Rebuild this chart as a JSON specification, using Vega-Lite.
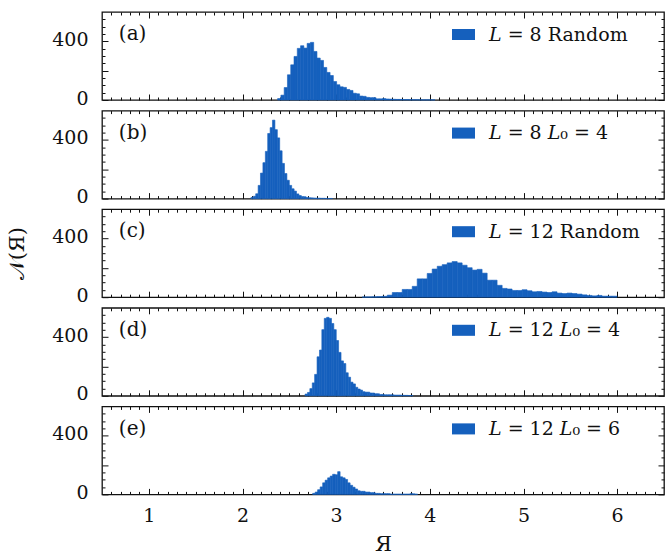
{
  "$schema": "https://vega.github.io/schema/vega-lite/v6.json",
  "padding": {"left": 6, "top": 10, "right": 5, "bottom": 2},
  "spacing": 10.6,
  "bounds": "flush",
  "resolve": {"scale": {"color": "independent"}, "legend": {"color": "independent"}},
  "datasets": {
    "a": [
      {"lo":2.375,"hi":2.41,"n":10},{"lo":2.41,"hi":2.445,"n":33},{"lo":2.445,"hi":2.48,"n":85},{"lo":2.48,"hi":2.515,"n":172},
      {"lo":2.515,"hi":2.55,"n":240},{"lo":2.55,"hi":2.585,"n":297},{"lo":2.585,"hi":2.62,"n":352},{"lo":2.62,"hi":2.655,"n":370},
      {"lo":2.655,"hi":2.69,"n":354},{"lo":2.69,"hi":2.725,"n":386},{"lo":2.725,"hi":2.76,"n":393},{"lo":2.76,"hi":2.795,"n":331},
      {"lo":2.795,"hi":2.83,"n":286},{"lo":2.83,"hi":2.865,"n":270},{"lo":2.865,"hi":2.9,"n":222},{"lo":2.9,"hi":2.935,"n":188},
      {"lo":2.935,"hi":2.97,"n":167},{"lo":2.97,"hi":3.005,"n":126},{"lo":3.005,"hi":3.04,"n":104},{"lo":3.04,"hi":3.075,"n":90},
      {"lo":3.075,"hi":3.11,"n":86},{"lo":3.11,"hi":3.145,"n":72},{"lo":3.145,"hi":3.18,"n":65},{"lo":3.18,"hi":3.215,"n":46},
      {"lo":3.215,"hi":3.25,"n":42},{"lo":3.25,"hi":3.285,"n":27},{"lo":3.285,"hi":3.32,"n":25},{"lo":3.32,"hi":3.355,"n":18},
      {"lo":3.355,"hi":3.39,"n":16},{"lo":3.39,"hi":3.425,"n":16},{"lo":3.425,"hi":3.46,"n":8},{"lo":3.46,"hi":3.495,"n":8},
      {"lo":3.495,"hi":3.53,"n":10},{"lo":3.53,"hi":3.565,"n":7},{"lo":3.565,"hi":3.6,"n":6},{"lo":3.6,"hi":3.635,"n":5},
      {"lo":3.635,"hi":3.67,"n":4},{"lo":3.67,"hi":3.705,"n":4},{"lo":3.705,"hi":3.74,"n":3},{"lo":3.74,"hi":3.775,"n":3},
      {"lo":3.775,"hi":3.81,"n":2},{"lo":3.81,"hi":3.845,"n":2},{"lo":3.845,"hi":3.88,"n":2},{"lo":3.88,"hi":3.915,"n":1},
      {"lo":3.915,"hi":3.95,"n":1},{"lo":3.95,"hi":3.985,"n":1},{"lo":3.985,"hi":4.02,"n":1},{"lo":4.02,"hi":4.055,"n":1}
    ],
    "b": [
      {"lo":2.090,"hi":2.116,"n":8},{"lo":2.116,"hi":2.141,"n":16},{"lo":2.141,"hi":2.167,"n":33},{"lo":2.167,"hi":2.192,"n":90},
      {"lo":2.192,"hi":2.218,"n":174},{"lo":2.218,"hi":2.244,"n":245},{"lo":2.244,"hi":2.269,"n":322},{"lo":2.269,"hi":2.295,"n":444},
      {"lo":2.295,"hi":2.320,"n":484},{"lo":2.320,"hi":2.346,"n":535},{"lo":2.346,"hi":2.372,"n":470},{"lo":2.372,"hi":2.397,"n":414},
      {"lo":2.397,"hi":2.423,"n":326},{"lo":2.423,"hi":2.448,"n":240},{"lo":2.448,"hi":2.474,"n":171},{"lo":2.474,"hi":2.500,"n":125},
      {"lo":2.500,"hi":2.525,"n":90},{"lo":2.525,"hi":2.551,"n":67},{"lo":2.551,"hi":2.576,"n":51},{"lo":2.576,"hi":2.602,"n":32},
      {"lo":2.602,"hi":2.628,"n":21},{"lo":2.628,"hi":2.653,"n":14},{"lo":2.653,"hi":2.679,"n":13},{"lo":2.679,"hi":2.704,"n":8},
      {"lo":2.704,"hi":2.730,"n":6},{"lo":2.730,"hi":2.756,"n":5},{"lo":2.756,"hi":2.781,"n":4},{"lo":2.781,"hi":2.807,"n":3},
      {"lo":2.807,"hi":2.832,"n":3},{"lo":2.832,"hi":2.858,"n":2},{"lo":2.858,"hi":2.884,"n":2},{"lo":2.884,"hi":2.909,"n":1},
      {"lo":2.909,"hi":2.935,"n":1},{"lo":2.935,"hi":2.960,"n":1}
    ],
    "c": [
      {"lo":3.279,"hi":3.332,"n":2},{"lo":3.332,"hi":3.386,"n":2},{"lo":3.386,"hi":3.439,"n":3},{"lo":3.439,"hi":3.492,"n":4},
      {"lo":3.492,"hi":3.546,"n":6},{"lo":3.546,"hi":3.599,"n":14},{"lo":3.599,"hi":3.652,"n":32},{"lo":3.652,"hi":3.705,"n":32},
      {"lo":3.705,"hi":3.759,"n":53},{"lo":3.759,"hi":3.812,"n":53},{"lo":3.812,"hi":3.865,"n":74},{"lo":3.865,"hi":3.919,"n":125},
      {"lo":3.919,"hi":3.972,"n":125},{"lo":3.972,"hi":4.025,"n":162},{"lo":4.025,"hi":4.079,"n":192},{"lo":4.079,"hi":4.132,"n":211},
      {"lo":4.132,"hi":4.185,"n":222},{"lo":4.185,"hi":4.238,"n":234},{"lo":4.238,"hi":4.292,"n":243},{"lo":4.292,"hi":4.345,"n":234},
      {"lo":4.345,"hi":4.398,"n":218},{"lo":4.398,"hi":4.452,"n":201},{"lo":4.452,"hi":4.505,"n":185},{"lo":4.505,"hi":4.558,"n":190},
      {"lo":4.558,"hi":4.612,"n":164},{"lo":4.612,"hi":4.665,"n":116},{"lo":4.665,"hi":4.718,"n":116},{"lo":4.718,"hi":4.772,"n":81},
      {"lo":4.772,"hi":4.825,"n":60},{"lo":4.825,"hi":4.878,"n":56},{"lo":4.878,"hi":4.932,"n":46},{"lo":4.932,"hi":4.985,"n":46},
      {"lo":4.985,"hi":5.038,"n":51},{"lo":5.038,"hi":5.091,"n":44},{"lo":5.091,"hi":5.145,"n":37},{"lo":5.145,"hi":5.198,"n":39},
      {"lo":5.198,"hi":5.251,"n":35},{"lo":5.251,"hi":5.305,"n":32},{"lo":5.305,"hi":5.358,"n":37},{"lo":5.358,"hi":5.411,"n":28},
      {"lo":5.411,"hi":5.465,"n":25},{"lo":5.465,"hi":5.518,"n":28},{"lo":5.518,"hi":5.571,"n":25},{"lo":5.571,"hi":5.625,"n":21},
      {"lo":5.625,"hi":5.678,"n":16},{"lo":5.678,"hi":5.731,"n":12},{"lo":5.731,"hi":5.785,"n":9},{"lo":5.785,"hi":5.838,"n":12},
      {"lo":5.838,"hi":5.891,"n":7},{"lo":5.891,"hi":5.945,"n":7},{"lo":5.945,"hi":5.998,"n":7}
    ],
    "d": [
      {"lo":2.668,"hi":2.694,"n":12},{"lo":2.694,"hi":2.719,"n":23},{"lo":2.719,"hi":2.745,"n":49},{"lo":2.745,"hi":2.770,"n":88},
      {"lo":2.770,"hi":2.796,"n":146},{"lo":2.796,"hi":2.822,"n":266},{"lo":2.822,"hi":2.847,"n":312},{"lo":2.847,"hi":2.873,"n":451},
      {"lo":2.873,"hi":2.898,"n":528},{"lo":2.898,"hi":2.924,"n":535},{"lo":2.924,"hi":2.950,"n":528},{"lo":2.950,"hi":2.975,"n":493},
      {"lo":2.975,"hi":3.001,"n":451},{"lo":3.001,"hi":3.026,"n":377},{"lo":3.026,"hi":3.052,"n":296},{"lo":3.052,"hi":3.078,"n":238},
      {"lo":3.078,"hi":3.103,"n":220},{"lo":3.103,"hi":3.129,"n":157},{"lo":3.129,"hi":3.154,"n":127},{"lo":3.154,"hi":3.180,"n":93},
      {"lo":3.180,"hi":3.206,"n":81},{"lo":3.206,"hi":3.231,"n":58},{"lo":3.231,"hi":3.257,"n":46},{"lo":3.257,"hi":3.282,"n":39},
      {"lo":3.282,"hi":3.308,"n":28},{"lo":3.308,"hi":3.334,"n":25},{"lo":3.334,"hi":3.359,"n":25},{"lo":3.359,"hi":3.385,"n":19},
      {"lo":3.385,"hi":3.410,"n":19},{"lo":3.410,"hi":3.436,"n":14},{"lo":3.436,"hi":3.462,"n":14},{"lo":3.462,"hi":3.487,"n":9},
      {"lo":3.487,"hi":3.513,"n":9},{"lo":3.513,"hi":3.538,"n":7},{"lo":3.538,"hi":3.564,"n":7},{"lo":3.564,"hi":3.590,"n":7},
      {"lo":3.590,"hi":3.615,"n":7},{"lo":3.615,"hi":3.641,"n":5},{"lo":3.641,"hi":3.666,"n":5},{"lo":3.666,"hi":3.692,"n":5},
      {"lo":3.692,"hi":3.718,"n":4},{"lo":3.718,"hi":3.743,"n":3},{"lo":3.743,"hi":3.769,"n":3},{"lo":3.769,"hi":3.794,"n":2},
      {"lo":3.794,"hi":3.820,"n":2}
    ],
    "e": [
      {"lo":2.749,"hi":2.776,"n":7},{"lo":2.776,"hi":2.802,"n":16},{"lo":2.802,"hi":2.829,"n":32},{"lo":2.829,"hi":2.856,"n":51},
      {"lo":2.856,"hi":2.882,"n":79},{"lo":2.882,"hi":2.909,"n":97},{"lo":2.909,"hi":2.936,"n":113},{"lo":2.936,"hi":2.962,"n":125},
      {"lo":2.962,"hi":2.989,"n":137},{"lo":2.989,"hi":3.016,"n":134},{"lo":3.016,"hi":3.042,"n":155},{"lo":3.042,"hi":3.069,"n":120},
      {"lo":3.069,"hi":3.096,"n":113},{"lo":3.096,"hi":3.122,"n":102},{"lo":3.122,"hi":3.149,"n":79},{"lo":3.149,"hi":3.176,"n":62},
      {"lo":3.176,"hi":3.202,"n":49},{"lo":3.202,"hi":3.229,"n":37},{"lo":3.229,"hi":3.256,"n":25},{"lo":3.256,"hi":3.282,"n":21},
      {"lo":3.282,"hi":3.309,"n":21},{"lo":3.309,"hi":3.336,"n":16},{"lo":3.336,"hi":3.362,"n":16},{"lo":3.362,"hi":3.389,"n":12},
      {"lo":3.389,"hi":3.416,"n":12},{"lo":3.416,"hi":3.442,"n":7},{"lo":3.442,"hi":3.469,"n":7},{"lo":3.469,"hi":3.496,"n":5},
      {"lo":3.496,"hi":3.522,"n":5},{"lo":3.522,"hi":3.549,"n":5},{"lo":3.549,"hi":3.576,"n":5},{"lo":3.576,"hi":3.602,"n":2},
      {"lo":3.602,"hi":3.629,"n":2},{"lo":3.629,"hi":3.656,"n":2},{"lo":3.656,"hi":3.682,"n":2},{"lo":3.682,"hi":3.709,"n":2},
      {"lo":3.709,"hi":3.736,"n":2},{"lo":3.736,"hi":3.762,"n":2},{"lo":3.762,"hi":3.789,"n":2},{"lo":3.789,"hi":3.816,"n":5},
      {"lo":3.816,"hi":3.842,"n":4},{"lo":3.842,"hi":3.869,"n":2}
    ]
  },
  "vconcat": [
    {
      "width": 562, "height": 88,
      "resolve": {"axis": {"x": "independent", "y": "independent"}},
      "layer": [
        {"data": {"name": "a"}, "mark": {"type": "bar", "stroke": "#1560BD", "strokeWidth": 0.6},
         "encoding": {
           "x": {"field": "lo", "type": "quantitative", "scale": {"domain": [0.5, 6.5], "nice": false, "zero": false}, "axis": {"orient": "bottom", "values": [1,2,3,4,5,6], "tickSize": -6, "labels": false, "title": null}},
           "x2": {"field": "hi"},
           "y": {"field": "n", "type": "quantitative", "scale": {"domain": [0, 600], "nice": false}, "axis": {"orient": "left", "values": [0,200,400], "tickSize": -6, "labelPadding": 20, "labelOffset": -2, "labelExpr": "datum.value == 200 ? '' : datum.label", "title": null}},
           "y2": {"datum": 0},
           "color": {"datum": "𝐿 = 8 Random", "scale": {"range": ["#1560BD"]}, "legend": {"orient": "none", "legendX": 350, "legendY": 11}}
         }},
        {"data": {"values": [{}]}, "mark": {"type": "text", "text": "(a)", "align": "left", "baseline": "middle", "font": "DejaVu Serif", "fontSize": 20, "color": "#111"},
         "encoding": {
           "x": {"datum": 0.68, "type": "quantitative", "scale": {"domain": [0.5, 6.5], "nice": false, "zero": false}, "axis": {"orient": "bottom", "values": [0.6,0.7,0.8,0.9,1.1,1.2,1.3,1.4,1.5,1.6,1.7,1.8,1.9,2.1,2.2,2.3,2.4,2.5,2.6,2.7,2.8,2.9,3.1,3.2,3.3,3.4,3.5,3.6,3.7,3.8,3.9,4.1,4.2,4.3,4.4,4.5,4.6,4.7,4.8,4.9,5.1,5.2,5.3,5.4,5.5,5.6,5.7,5.8,5.9,6.1,6.2,6.3,6.4], "tickSize": -3, "labels": false, "title": null}},
           "y": {"datum": 448, "type": "quantitative", "scale": {"domain": [0, 600], "nice": false}, "axis": {"orient": "left", "values": [50,100,150,250,300,350,450,500,550], "tickSize": -3, "labels": false, "title": null}}
         }},
        {"data": {"values": [{}]}, "mark": {"type": "point", "opacity": 0},
         "encoding": {
           "x": {"datum": 1, "type": "quantitative", "scale": {"domain": [0.5, 6.5], "nice": false, "zero": false}, "axis": {"orient": "top", "values": [1,2,3,4,5,6], "tickSize": -6, "labels": false, "title": null}},
           "y": {"datum": 0, "type": "quantitative", "scale": {"domain": [0, 600], "nice": false}, "axis": {"orient": "right", "values": [0,200,400], "tickSize": -6, "labels": false, "title": null}}
         }},
        {"data": {"values": [{}]}, "mark": {"type": "point", "opacity": 0},
         "encoding": {
           "x": {"datum": 1, "type": "quantitative", "scale": {"domain": [0.5, 6.5], "nice": false, "zero": false}, "axis": {"orient": "top", "values": [0.6,0.7,0.8,0.9,1.1,1.2,1.3,1.4,1.5,1.6,1.7,1.8,1.9,2.1,2.2,2.3,2.4,2.5,2.6,2.7,2.8,2.9,3.1,3.2,3.3,3.4,3.5,3.6,3.7,3.8,3.9,4.1,4.2,4.3,4.4,4.5,4.6,4.7,4.8,4.9,5.1,5.2,5.3,5.4,5.5,5.6,5.7,5.8,5.9,6.1,6.2,6.3,6.4], "tickSize": -3, "labels": false, "title": null}},
           "y": {"datum": 0, "type": "quantitative", "scale": {"domain": [0, 600], "nice": false}, "axis": {"orient": "right", "values": [50,100,150,250,300,350,450,500,550], "tickSize": -3, "labels": false, "title": null}}
         }}
      ]
    },
    {
      "width": 562, "height": 88,
      "resolve": {"axis": {"x": "independent", "y": "independent"}},
      "layer": [
        {"data": {"name": "b"}, "mark": {"type": "bar", "stroke": "#1560BD", "strokeWidth": 0.6},
         "encoding": {
           "x": {"field": "lo", "type": "quantitative", "scale": {"domain": [0.5, 6.5], "nice": false, "zero": false}, "axis": {"orient": "bottom", "values": [1,2,3,4,5,6], "tickSize": -6, "labels": false, "title": null}},
           "x2": {"field": "hi"},
           "y": {"field": "n", "type": "quantitative", "scale": {"domain": [0, 600], "nice": false}, "axis": {"orient": "left", "values": [0,200,400], "tickSize": -6, "labelPadding": 20, "labelOffset": -2, "labelExpr": "datum.value == 200 ? '' : datum.label", "title": null}},
           "y2": {"datum": 0},
           "color": {"datum": "𝐿 = 8 𝐿₀ = 4", "scale": {"range": ["#1560BD"]}, "legend": {"orient": "none", "legendX": 350, "legendY": 11}}
         }},
        {"data": {"values": [{}]}, "mark": {"type": "text", "text": "(b)", "align": "left", "baseline": "middle", "font": "DejaVu Serif", "fontSize": 20, "color": "#111"},
         "encoding": {
           "x": {"datum": 0.68, "type": "quantitative", "scale": {"domain": [0.5, 6.5], "nice": false, "zero": false}, "axis": {"orient": "bottom", "values": [0.6,0.7,0.8,0.9,1.1,1.2,1.3,1.4,1.5,1.6,1.7,1.8,1.9,2.1,2.2,2.3,2.4,2.5,2.6,2.7,2.8,2.9,3.1,3.2,3.3,3.4,3.5,3.6,3.7,3.8,3.9,4.1,4.2,4.3,4.4,4.5,4.6,4.7,4.8,4.9,5.1,5.2,5.3,5.4,5.5,5.6,5.7,5.8,5.9,6.1,6.2,6.3,6.4], "tickSize": -3, "labels": false, "title": null}},
           "y": {"datum": 448, "type": "quantitative", "scale": {"domain": [0, 600], "nice": false}, "axis": {"orient": "left", "values": [50,100,150,250,300,350,450,500,550], "tickSize": -3, "labels": false, "title": null}}
         }},
        {"data": {"values": [{}]}, "mark": {"type": "point", "opacity": 0},
         "encoding": {
           "x": {"datum": 1, "type": "quantitative", "scale": {"domain": [0.5, 6.5], "nice": false, "zero": false}, "axis": {"orient": "top", "values": [1,2,3,4,5,6], "tickSize": -6, "labels": false, "title": null}},
           "y": {"datum": 0, "type": "quantitative", "scale": {"domain": [0, 600], "nice": false}, "axis": {"orient": "right", "values": [0,200,400], "tickSize": -6, "labels": false, "title": null}}
         }},
        {"data": {"values": [{}]}, "mark": {"type": "point", "opacity": 0},
         "encoding": {
           "x": {"datum": 1, "type": "quantitative", "scale": {"domain": [0.5, 6.5], "nice": false, "zero": false}, "axis": {"orient": "top", "values": [0.6,0.7,0.8,0.9,1.1,1.2,1.3,1.4,1.5,1.6,1.7,1.8,1.9,2.1,2.2,2.3,2.4,2.5,2.6,2.7,2.8,2.9,3.1,3.2,3.3,3.4,3.5,3.6,3.7,3.8,3.9,4.1,4.2,4.3,4.4,4.5,4.6,4.7,4.8,4.9,5.1,5.2,5.3,5.4,5.5,5.6,5.7,5.8,5.9,6.1,6.2,6.3,6.4], "tickSize": -3, "labels": false, "title": null}},
           "y": {"datum": 0, "type": "quantitative", "scale": {"domain": [0, 600], "nice": false}, "axis": {"orient": "right", "values": [50,100,150,250,300,350,450,500,550], "tickSize": -3, "labels": false, "title": null}}
         }}
      ]
    },
    {
      "width": 562, "height": 88,
      "resolve": {"axis": {"x": "independent", "y": "independent"}},
      "layer": [
        {"data": {"name": "c"}, "mark": {"type": "bar", "stroke": "#1560BD", "strokeWidth": 0.6},
         "encoding": {
           "x": {"field": "lo", "type": "quantitative", "scale": {"domain": [0.5, 6.5], "nice": false, "zero": false}, "axis": {"orient": "bottom", "values": [1,2,3,4,5,6], "tickSize": -6, "labels": false, "title": null}},
           "x2": {"field": "hi"},
           "y": {"field": "n", "type": "quantitative", "scale": {"domain": [0, 600], "nice": false}, "axis": {"orient": "left", "values": [0,200,400], "tickSize": -6, "labelPadding": 20, "labelOffset": -2, "labelExpr": "datum.value == 200 ? '' : datum.label", "title": "𝒩(Я)", "titlePadding": 24}},
           "y2": {"datum": 0},
           "color": {"datum": "𝐿 = 12 Random", "scale": {"range": ["#1560BD"]}, "legend": {"orient": "none", "legendX": 350, "legendY": 11}}
         }},
        {"data": {"values": [{}]}, "mark": {"type": "text", "text": "(c)", "align": "left", "baseline": "middle", "font": "DejaVu Serif", "fontSize": 20, "color": "#111"},
         "encoding": {
           "x": {"datum": 0.68, "type": "quantitative", "scale": {"domain": [0.5, 6.5], "nice": false, "zero": false}, "axis": {"orient": "bottom", "values": [0.6,0.7,0.8,0.9,1.1,1.2,1.3,1.4,1.5,1.6,1.7,1.8,1.9,2.1,2.2,2.3,2.4,2.5,2.6,2.7,2.8,2.9,3.1,3.2,3.3,3.4,3.5,3.6,3.7,3.8,3.9,4.1,4.2,4.3,4.4,4.5,4.6,4.7,4.8,4.9,5.1,5.2,5.3,5.4,5.5,5.6,5.7,5.8,5.9,6.1,6.2,6.3,6.4], "tickSize": -3, "labels": false, "title": null}},
           "y": {"datum": 448, "type": "quantitative", "scale": {"domain": [0, 600], "nice": false}, "axis": {"orient": "left", "values": [50,100,150,250,300,350,450,500,550], "tickSize": -3, "labels": false, "title": null}}
         }},
        {"data": {"values": [{}]}, "mark": {"type": "point", "opacity": 0},
         "encoding": {
           "x": {"datum": 1, "type": "quantitative", "scale": {"domain": [0.5, 6.5], "nice": false, "zero": false}, "axis": {"orient": "top", "values": [1,2,3,4,5,6], "tickSize": -6, "labels": false, "title": null}},
           "y": {"datum": 0, "type": "quantitative", "scale": {"domain": [0, 600], "nice": false}, "axis": {"orient": "right", "values": [0,200,400], "tickSize": -6, "labels": false, "title": null}}
         }},
        {"data": {"values": [{}]}, "mark": {"type": "point", "opacity": 0},
         "encoding": {
           "x": {"datum": 1, "type": "quantitative", "scale": {"domain": [0.5, 6.5], "nice": false, "zero": false}, "axis": {"orient": "top", "values": [0.6,0.7,0.8,0.9,1.1,1.2,1.3,1.4,1.5,1.6,1.7,1.8,1.9,2.1,2.2,2.3,2.4,2.5,2.6,2.7,2.8,2.9,3.1,3.2,3.3,3.4,3.5,3.6,3.7,3.8,3.9,4.1,4.2,4.3,4.4,4.5,4.6,4.7,4.8,4.9,5.1,5.2,5.3,5.4,5.5,5.6,5.7,5.8,5.9,6.1,6.2,6.3,6.4], "tickSize": -3, "labels": false, "title": null}},
           "y": {"datum": 0, "type": "quantitative", "scale": {"domain": [0, 600], "nice": false}, "axis": {"orient": "right", "values": [50,100,150,250,300,350,450,500,550], "tickSize": -3, "labels": false, "title": null}}
         }}
      ]
    },
    {
      "width": 562, "height": 88,
      "resolve": {"axis": {"x": "independent", "y": "independent"}},
      "layer": [
        {"data": {"name": "d"}, "mark": {"type": "bar", "stroke": "#1560BD", "strokeWidth": 0.6},
         "encoding": {
           "x": {"field": "lo", "type": "quantitative", "scale": {"domain": [0.5, 6.5], "nice": false, "zero": false}, "axis": {"orient": "bottom", "values": [1,2,3,4,5,6], "tickSize": -6, "labels": false, "title": null}},
           "x2": {"field": "hi"},
           "y": {"field": "n", "type": "quantitative", "scale": {"domain": [0, 600], "nice": false}, "axis": {"orient": "left", "values": [0,200,400], "tickSize": -6, "labelPadding": 20, "labelOffset": -2, "labelExpr": "datum.value == 200 ? '' : datum.label", "title": null}},
           "y2": {"datum": 0},
           "color": {"datum": "𝐿 = 12 𝐿₀ = 4", "scale": {"range": ["#1560BD"]}, "legend": {"orient": "none", "legendX": 350, "legendY": 11}}
         }},
        {"data": {"values": [{}]}, "mark": {"type": "text", "text": "(d)", "align": "left", "baseline": "middle", "font": "DejaVu Serif", "fontSize": 20, "color": "#111"},
         "encoding": {
           "x": {"datum": 0.68, "type": "quantitative", "scale": {"domain": [0.5, 6.5], "nice": false, "zero": false}, "axis": {"orient": "bottom", "values": [0.6,0.7,0.8,0.9,1.1,1.2,1.3,1.4,1.5,1.6,1.7,1.8,1.9,2.1,2.2,2.3,2.4,2.5,2.6,2.7,2.8,2.9,3.1,3.2,3.3,3.4,3.5,3.6,3.7,3.8,3.9,4.1,4.2,4.3,4.4,4.5,4.6,4.7,4.8,4.9,5.1,5.2,5.3,5.4,5.5,5.6,5.7,5.8,5.9,6.1,6.2,6.3,6.4], "tickSize": -3, "labels": false, "title": null}},
           "y": {"datum": 448, "type": "quantitative", "scale": {"domain": [0, 600], "nice": false}, "axis": {"orient": "left", "values": [50,100,150,250,300,350,450,500,550], "tickSize": -3, "labels": false, "title": null}}
         }},
        {"data": {"values": [{}]}, "mark": {"type": "point", "opacity": 0},
         "encoding": {
           "x": {"datum": 1, "type": "quantitative", "scale": {"domain": [0.5, 6.5], "nice": false, "zero": false}, "axis": {"orient": "top", "values": [1,2,3,4,5,6], "tickSize": -6, "labels": false, "title": null}},
           "y": {"datum": 0, "type": "quantitative", "scale": {"domain": [0, 600], "nice": false}, "axis": {"orient": "right", "values": [0,200,400], "tickSize": -6, "labels": false, "title": null}}
         }},
        {"data": {"values": [{}]}, "mark": {"type": "point", "opacity": 0},
         "encoding": {
           "x": {"datum": 1, "type": "quantitative", "scale": {"domain": [0.5, 6.5], "nice": false, "zero": false}, "axis": {"orient": "top", "values": [0.6,0.7,0.8,0.9,1.1,1.2,1.3,1.4,1.5,1.6,1.7,1.8,1.9,2.1,2.2,2.3,2.4,2.5,2.6,2.7,2.8,2.9,3.1,3.2,3.3,3.4,3.5,3.6,3.7,3.8,3.9,4.1,4.2,4.3,4.4,4.5,4.6,4.7,4.8,4.9,5.1,5.2,5.3,5.4,5.5,5.6,5.7,5.8,5.9,6.1,6.2,6.3,6.4], "tickSize": -3, "labels": false, "title": null}},
           "y": {"datum": 0, "type": "quantitative", "scale": {"domain": [0, 600], "nice": false}, "axis": {"orient": "right", "values": [50,100,150,250,300,350,450,500,550], "tickSize": -3, "labels": false, "title": null}}
         }}
      ]
    },
    {
      "width": 562, "height": 88,
      "resolve": {"axis": {"x": "independent", "y": "independent"}},
      "layer": [
        {"data": {"name": "e"}, "mark": {"type": "bar", "stroke": "#1560BD", "strokeWidth": 0.6},
         "encoding": {
           "x": {"field": "lo", "type": "quantitative", "scale": {"domain": [0.5, 6.5], "nice": false, "zero": false}, "axis": {"orient": "bottom", "values": [1,2,3,4,5,6], "tickSize": -6, "labels": true, "labelPadding": 18, "title": "Я", "titlePadding": 8}},
           "x2": {"field": "hi"},
           "y": {"field": "n", "type": "quantitative", "scale": {"domain": [0, 600], "nice": false}, "axis": {"orient": "left", "values": [0,200,400], "tickSize": -6, "labelPadding": 20, "labelOffset": -2, "labelExpr": "datum.value == 200 ? '' : datum.label", "title": null}},
           "y2": {"datum": 0},
           "color": {"datum": "𝐿 = 12 𝐿₀ = 6", "scale": {"range": ["#1560BD"]}, "legend": {"orient": "none", "legendX": 350, "legendY": 11}}
         }},
        {"data": {"values": [{}]}, "mark": {"type": "text", "text": "(e)", "align": "left", "baseline": "middle", "font": "DejaVu Serif", "fontSize": 20, "color": "#111"},
         "encoding": {
           "x": {"datum": 0.68, "type": "quantitative", "scale": {"domain": [0.5, 6.5], "nice": false, "zero": false}, "axis": {"orient": "bottom", "values": [0.6,0.7,0.8,0.9,1.1,1.2,1.3,1.4,1.5,1.6,1.7,1.8,1.9,2.1,2.2,2.3,2.4,2.5,2.6,2.7,2.8,2.9,3.1,3.2,3.3,3.4,3.5,3.6,3.7,3.8,3.9,4.1,4.2,4.3,4.4,4.5,4.6,4.7,4.8,4.9,5.1,5.2,5.3,5.4,5.5,5.6,5.7,5.8,5.9,6.1,6.2,6.3,6.4], "tickSize": -3, "labels": false, "title": null}},
           "y": {"datum": 448, "type": "quantitative", "scale": {"domain": [0, 600], "nice": false}, "axis": {"orient": "left", "values": [50,100,150,250,300,350,450,500,550], "tickSize": -3, "labels": false, "title": null}}
         }},
        {"data": {"values": [{}]}, "mark": {"type": "point", "opacity": 0},
         "encoding": {
           "x": {"datum": 1, "type": "quantitative", "scale": {"domain": [0.5, 6.5], "nice": false, "zero": false}, "axis": {"orient": "top", "values": [1,2,3,4,5,6], "tickSize": -6, "labels": false, "title": null}},
           "y": {"datum": 0, "type": "quantitative", "scale": {"domain": [0, 600], "nice": false}, "axis": {"orient": "right", "values": [0,200,400], "tickSize": -6, "labels": false, "title": null}}
         }},
        {"data": {"values": [{}]}, "mark": {"type": "point", "opacity": 0},
         "encoding": {
           "x": {"datum": 1, "type": "quantitative", "scale": {"domain": [0.5, 6.5], "nice": false, "zero": false}, "axis": {"orient": "top", "values": [0.6,0.7,0.8,0.9,1.1,1.2,1.3,1.4,1.5,1.6,1.7,1.8,1.9,2.1,2.2,2.3,2.4,2.5,2.6,2.7,2.8,2.9,3.1,3.2,3.3,3.4,3.5,3.6,3.7,3.8,3.9,4.1,4.2,4.3,4.4,4.5,4.6,4.7,4.8,4.9,5.1,5.2,5.3,5.4,5.5,5.6,5.7,5.8,5.9,6.1,6.2,6.3,6.4], "tickSize": -3, "labels": false, "title": null}},
           "y": {"datum": 0, "type": "quantitative", "scale": {"domain": [0, 600], "nice": false}, "axis": {"orient": "right", "values": [50,100,150,250,300,350,450,500,550], "tickSize": -3, "labels": false, "title": null}}
         }}
      ]
    }
  ],
  "config": {
    "view": {"stroke": "#111", "strokeWidth": 1.3},
    "font": "DejaVu Serif",
    "axis": {"domain": false, "grid": false, "tickColor": "#111", "tickWidth": 1, "labelFont": "DejaVu Serif", "labelFontSize": 19, "labelColor": "#111", "titleFont": "DejaVu Serif", "titleFontSize": 21, "titleFontWeight": "normal", "titleColor": "#111", "labelFlush": false, "labelOverlap": false},
    "legend": {"title": null, "padding": 0, "symbolType": "M-1,-0.48H1V0.48H-1Z", "symbolSize": 529, "symbolStrokeWidth": 0, "symbolOpacity": 1, "labelOffset": 14, "labelFont": "DejaVu Serif", "labelFontSize": 19, "labelColor": "#111", "labelLimit": 400}
  }
}
